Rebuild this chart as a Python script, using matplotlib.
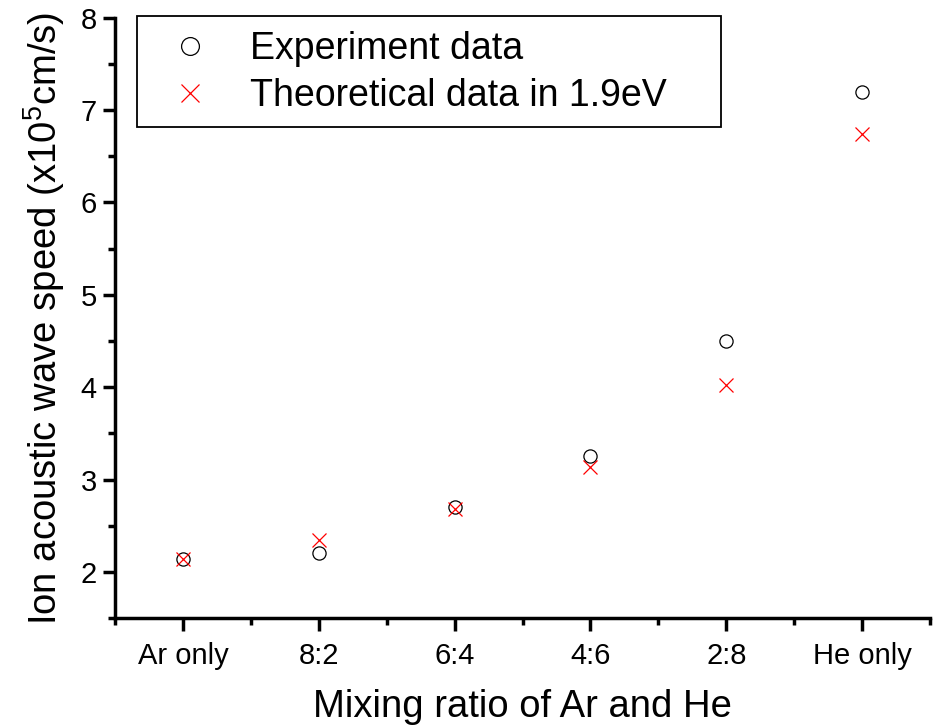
import numpy as np
import matplotlib
matplotlib.use('Agg')
import matplotlib.pyplot as plt
from matplotlib.patches import Rectangle
from matplotlib.ticker import MultipleLocator

plt.rcParams['font.family'] = ['Liberation Sans', 'DejaVu Sans']
plt.rcParams['mathtext.fontset'] = 'custom'
plt.rcParams['mathtext.rm'] = 'Liberation Sans'

# Mixing ratio categories
categories = ['Ar only', '8:2', '6:4', '4:6', '2:8', 'He only']

# Ion acoustic wave speed (x10^5 cm/s)
experiment = [2.14, 2.20, 2.70, 3.25, 4.50, 7.20]
theory = [2.14, 2.35, 2.68, 3.14, 4.02, 6.74]

fig = plt.figure(figsize=(9.39, 7.28), dpi=100)
ax = fig.add_axes([0.1225, 0.151, 0.868, 0.8247])

x = np.arange(len(categories))
ax.plot(x, experiment, linestyle='none', marker='o', markersize=9.5,
        markerfacecolor='none', markeredgecolor='black', markeredgewidth=0.9,
        label='Experiment data')
ax.plot(x, theory, linestyle='none', marker='x', markersize=10,
        color='red', markeredgewidth=0.9, label='Theoretical data in 1.9eV')

ax.set_xlim(-0.5, 5.5)
ax.set_ylim(1.5, 8)
ax.set_xticks(x)
ax.set_xticklabels(categories)
ax.xaxis.set_minor_locator(MultipleLocator(1, offset=0.5))
ax.yaxis.set_major_locator(MultipleLocator(1))
ax.yaxis.set_minor_locator(MultipleLocator(0.5))

for side in ['top', 'right']:
    ax.spines[side].set_visible(False)
for side in ['left', 'bottom']:
    ax.spines[side].set_linewidth(2.5)

ax.tick_params(which='major', length=9, width=2.5, labelsize=21, pad=4)
ax.tick_params(axis='x', which='major', pad=8)
ax.tick_params(which='minor', length=5, width=2.5)

ax.set_xlabel('Mixing ratio of Ar and He', fontsize=27.5, labelpad=14)
ax.set_ylabel(r'Ion acoustic wave speed (x10$^5$cm/s)', fontsize=27.5, labelpad=10)

# legend without its own frame, box drawn around it separately (wider side padding)
leg = ax.legend(loc='upper left', bbox_to_anchor=(0.046, 0.977), fontsize=27,
                markerscale=1.35, frameon=False, handletextpad=0.6,
                labelspacing=0.28, borderpad=0, handlelength=2.0, borderaxespad=0)
ax.add_patch(Rectangle((0.027, 0.818), 0.7166, 0.1853, transform=ax.transAxes,
                       fill=False, edgecolor='black', linewidth=1.3, clip_on=False))

fig.savefig('out.png', dpi=100)
